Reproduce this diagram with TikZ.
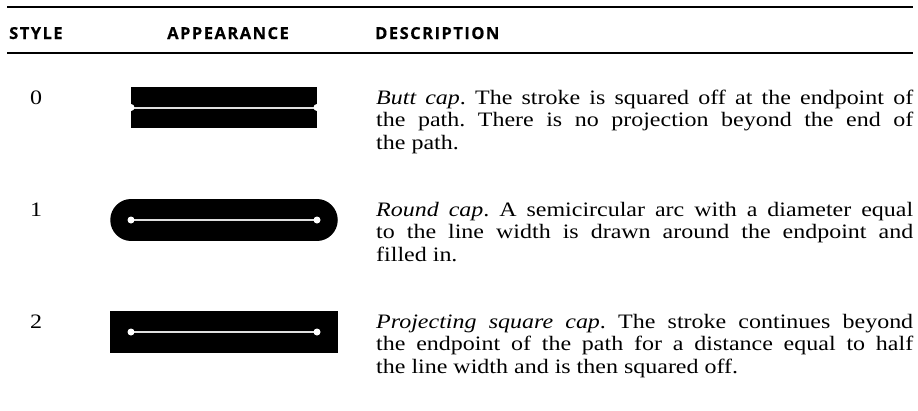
\documentclass[tikz,border=0pt]{standalone}
\usepackage{fontspec}
\setmainfont{Liberation Serif}[FakeStretch=1.17]
\newfontfamily\headfont{Open Sans}[LetterSpace=9, BoldFeatures={FakeBold=0.5}]
\usetikzlibrary{positioning}

\tikzset{
  rulebar/.style={line width=1.2bp},
  head/.style={font=\headfont\bfseries\fontsize{16.5bp}{18bp}\selectfont, inner sep=0pt},
  num/.style={font=\fontsize{20.5bp}{22.5bp}\selectfont, inner sep=0pt, anchor=base},
  desc/.style={font=\fontsize{20.5bp}{22.5bp}\selectfont\frenchspacing, text width=537bp, align=justify, inner sep=0pt, anchor=base west},
  capstroke/.style={line width=41.5bp, black},
  pathline/.style={line width=1.3bp, white!75!gray},
  enddot/.style={circle, fill=white, inner sep=0pt, minimum size=7bp}
}

\begin{document}
\begin{tikzpicture}[x=1bp,y=-1bp]
\useasboundingbox (0,0) rectangle (918,410);

\coordinate(top l) at (7,7);
\coordinate(top r) at (913,7);
\coordinate(mid l) at (7,53);
\coordinate(mid r) at (913,53);
\draw[rulebar] (top l) -- (top r);
\draw[rulebar] (mid l) -- (mid r);

\node(hstyle)[head,anchor=base west] at (9,39) {STYLE};
\node(happ)[head,anchor=base] at (228,39) {APPEARANCE};
\node(hdesc)[head,anchor=base west] at (375,39) {DESCRIPTION};

\node(n0)[num] at (36,104) {0};
\node(n1)[num] at (36,216) {1};
\node(n2)[num] at (36,328) {2};

\coordinate(a0) at (131,107.5);
\coordinate(b0) at (317,107.5);
\coordinate(a1) at (131,220);
\coordinate(b1) at (317,220);
\coordinate(a2) at (131,332);
\coordinate(b2) at (317,332);

\draw[capstroke,line cap=butt] (a0) -- (b0);
\draw[capstroke,line cap=round] (a1) -- (b1);
\draw[capstroke,line cap=rect] (a2) -- (b2);

\draw[pathline,line width=2bp] (a0) -- (b0);
\draw[pathline] (a1) -- (b1);
\draw[pathline] (a2) -- (b2);

\node(da0)[enddot] at (a0) {};
\node(db0)[enddot] at (b0) {};
\node(da1)[enddot] at (a1) {};
\node(db1)[enddot] at (b1) {};
\node(da2)[enddot] at (a2) {};
\node(db2)[enddot] at (b2) {};

\node(d0)[desc] at (376,104) {\textit{Butt cap}. The stroke is squared off at the endpoint of\linebreak the path. There is no projection beyond the end of\linebreak the path.};
\node(d1)[desc] at (376,216) {\textit{Round cap}. A semicircular arc with a diameter equal\linebreak to the line width is drawn around the endpoint and\linebreak filled in.};
\node(d2)[desc] at (376,328) {\textit{Projecting square cap}. The stroke continues beyond\linebreak the endpoint of the path for a distance equal to half\linebreak the line width and is then squared off.};

\end{tikzpicture}
\end{document}
